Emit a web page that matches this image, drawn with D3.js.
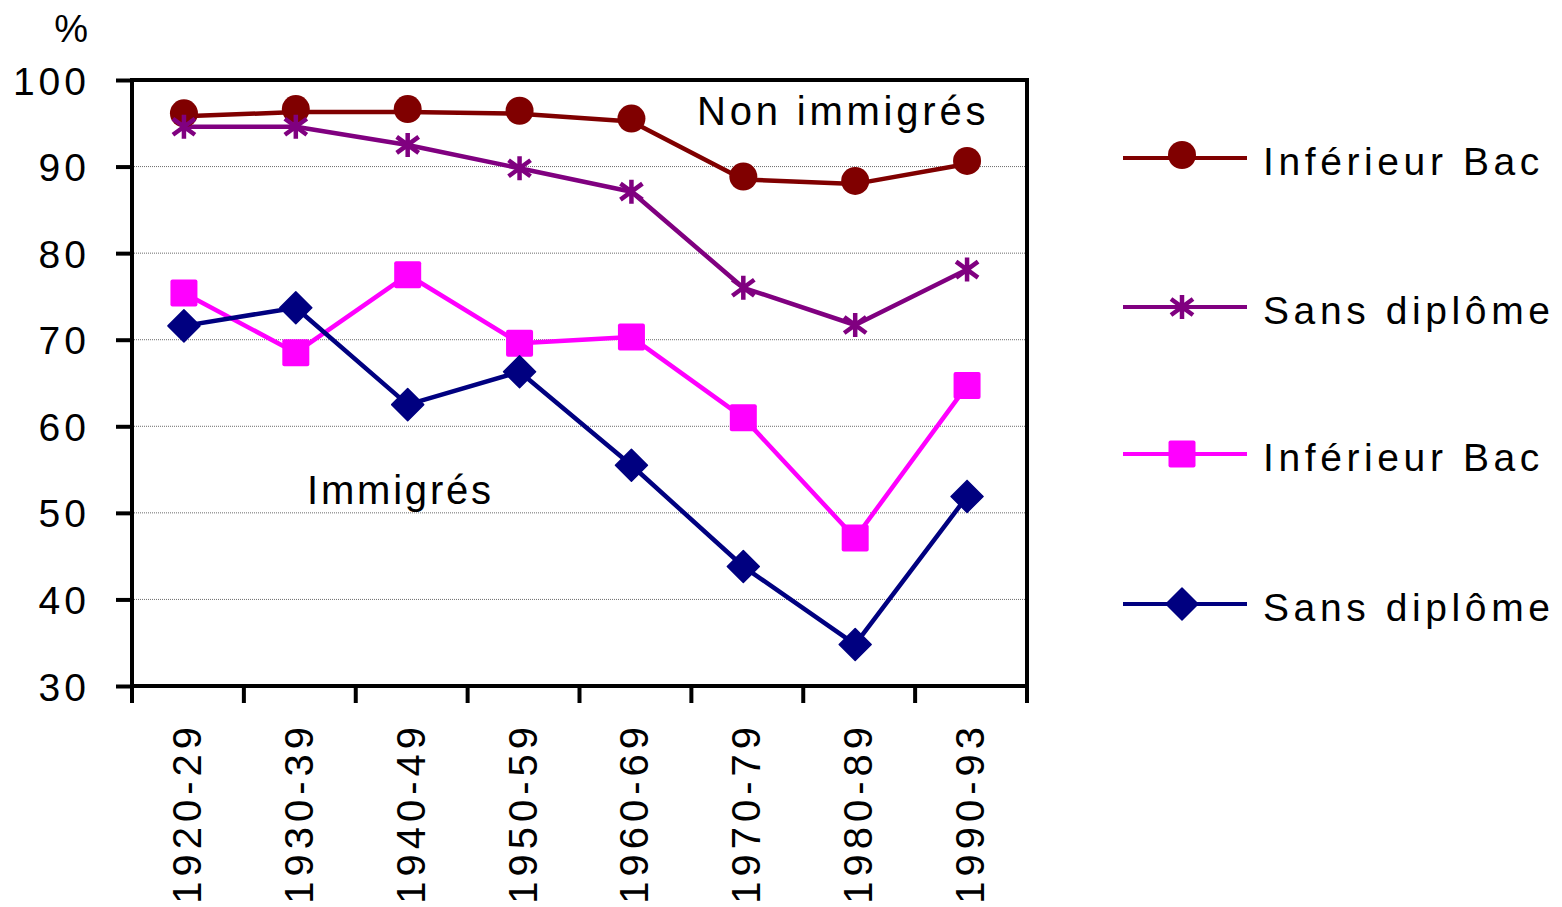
<!DOCTYPE html>
<html>
<head>
<meta charset="utf-8">
<script src="https://cdn.jsdelivr.net/npm/d3@7"></script>
<style>
  html, body { margin: 0; padding: 0; background: #fff; }
  svg { display: block; font-family: "Liberation Sans", Arial, sans-serif; }
</style>
</head>
<body>
<svg id="chart" width="1562" height="907"></svg>
<script>
// Cohorts (decade of birth)
const categories = ["1920-29", "1930-39", "1940-49", "1950-59", "1960-69", "1970-79", "1980-89", "1990-93"];

// Non immigrés
const nonImmInferieurBac = [95.8, 96.3, 96.3, 96.1, 95.2, 88.5, 88.0, 90.3];
const nonImmSansDiplome  = [94.6, 94.6, 92.5, 89.8, 87.1, 76.0, 71.7, 78.1];
// Immigrés
const immInferieurBac    = [75.4, 68.5, 77.5, 69.6, 70.3, 61.0, 47.1, 64.7];
const immSansDiplome     = [71.6, 73.7, 62.5, 66.3, 55.5, 43.8, 34.8, 51.9];

const yTicks = [30, 40, 50, 60, 70, 80, 90, 100];

const series = [
  { name: "Inférieur Bac", values: nonImmInferieurBac, color: "#800000", marker: "circle" },
  { name: "Sans diplôme",  values: nonImmSansDiplome,  color: "#800080", marker: "star" },
  { name: "Inférieur Bac", values: immInferieurBac,    color: "#FF00FF", marker: "square" },
  { name: "Sans diplôme",  values: immSansDiplome,     color: "#000080", marker: "diamond" }
];

const svg = d3.select("#chart");
const plot = { left: 132, right: 1027, top: 80, bottom: 686 };

const x = d3.scaleBand().domain(categories).range([plot.left, plot.right]);
const y = d3.scaleLinear().domain([30, 100]).range([plot.bottom, plot.top]);
const cx = c => x(c) + x.bandwidth() / 2 - 4;

// dotted gridlines
svg.append("g")
  .selectAll("line")
  .data(yTicks.filter(t => t > 30 && t < 100))
  .join("line")
  .attr("x1", plot.left).attr("x2", plot.right)
  .attr("y1", d => y(d)).attr("y2", d => y(d))
  .attr("stroke", "#6b6b6b")
  .attr("stroke-width", 1)
  .attr("stroke-dasharray", "1,1");

// frame
svg.append("rect")
  .attr("x", plot.left).attr("y", plot.top)
  .attr("width", plot.right - plot.left).attr("height", plot.bottom - plot.top)
  .attr("fill", "none").attr("stroke", "#000").attr("stroke-width", 4);

// y axis
const yAxis = svg.append("g")
  .attr("transform", `translate(${plot.left},0)`)
  .call(d3.axisLeft(y).tickValues(yTicks).tickSize(16).tickPadding(26));
yAxis.select(".domain").remove();
yAxis.selectAll(".tick line").attr("stroke", "#000").attr("stroke-width", 4);
yAxis.selectAll(".tick text")
  .attr("font-size", 39).attr("fill", "#000")
  .attr("letter-spacing", 4)
  .attr("font-family", "Liberation Sans, Arial, sans-serif")
  .attr("dy", "0.36em");

// x axis (ticks on band boundaries)
const xAxisG = svg.append("g");
const boundaries = categories.map(c => x(c)).concat([plot.right]);
xAxisG.selectAll("line")
  .data(boundaries)
  .join("line")
  .attr("x1", d => d).attr("x2", d => d)
  .attr("y1", plot.bottom).attr("y2", plot.bottom + 17)
  .attr("stroke", "#000").attr("stroke-width", 4);
xAxisG.selectAll("text")
  .data(categories)
  .join("text")
  .attr("transform", d => `translate(${x(d) + x.bandwidth() / 2 + 13},${plot.bottom + 36}) rotate(-90)`)
  .attr("text-anchor", "end")
  .attr("font-size", 40)
  .attr("letter-spacing", 5)
  .attr("fill", "#000")
  .text(d => d);

// "%" unit label
svg.append("text")
  .attr("x", 88).attr("y", 42)
  .attr("text-anchor", "end")
  .attr("font-size", 38)
  .text("%");

// marker drawing
function drawMarker(g, type, color) {
  if (type === "circle") {
    g.append("circle").attr("r", 14).attr("cy", -3).attr("fill", color);
  } else if (type === "square") {
    g.append("rect").attr("x", -13.5).attr("y", -13.5).attr("width", 27).attr("height", 27)
      .attr("rx", 2).attr("fill", color);
  } else if (type === "diamond") {
    g.append("path").attr("d", "M0,-16L16,0L0,16L-16,0Z").attr("fill", color)
      .attr("stroke", color).attr("stroke-width", 1.5).attr("stroke-linejoin", "round");
  } else if (type === "star") {
    g.append("path")
      .attr("d", "M0,-12L0,12M-11,-8L11,8M-11,8L11,-8")
      .attr("stroke", color).attr("stroke-width", 4.5).attr("fill", "none");
  }
}

const line = d3.line()
  .x((d, i) => cx(categories[i]))
  .y(d => y(d));

series.forEach(s => {
  svg.append("path")
    .datum(s.values)
    .attr("d", line)
    .attr("fill", "none")
    .attr("stroke", s.color)
    .attr("stroke-width", 4.5)
    .attr("stroke-linejoin", "round");
});

series.forEach(s => {
  s.values.forEach((v, i) => {
    const g = svg.append("g").attr("transform", `translate(${cx(categories[i])},${y(v)})`);
    drawMarker(g, s.marker, s.color);
  });
});

// group annotations
svg.append("text")
  .attr("x", 697).attr("y", 125)
  .attr("font-size", 40).attr("letter-spacing", 3.8)
  .text("Non immigrés");
svg.append("text")
  .attr("x", 307).attr("y", 504)
  .attr("font-size", 40).attr("letter-spacing", 2.8)
  .text("Immigrés");

// legend
const legendY = [158, 307, 454, 604];
const legend = svg.append("g");
series.forEach((s, i) => {
  const g = legend.append("g").attr("transform", `translate(0,${legendY[i]})`);
  g.append("line").attr("x1", 1123).attr("x2", 1247).attr("y1", 0).attr("y2", 0)
    .attr("stroke", s.color).attr("stroke-width", 4);
  const m = g.append("g").attr("transform", "translate(1182,0)");
  drawMarker(m, s.marker, s.color);
  g.append("text")
    .attr("x", 1263).attr("y", 17)
    .attr("font-size", 39).attr("letter-spacing", 4.6)
    .text(s.name);
});
</script>
</body>
</html>
